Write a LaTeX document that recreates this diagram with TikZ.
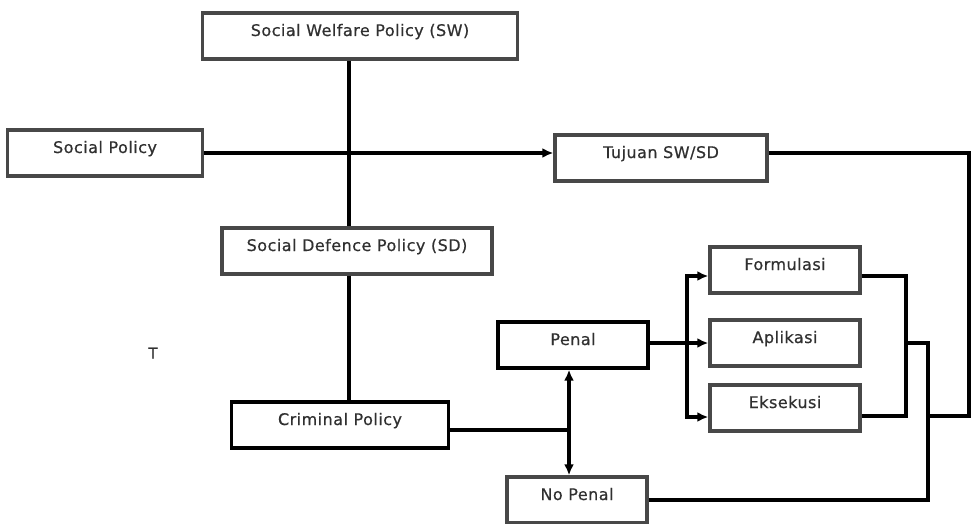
\documentclass[tikz,border=0pt]{standalone}
\usepackage{fontspec}
\setmainfont{DejaVu Sans}[LetterSpace=3,FakeBold=0.6]
\usetikzlibrary{arrows.meta}
\definecolor{boxgray}{HTML}{484848}
\definecolor{txtgray}{HTML}{303030}

\begin{document}
\begin{tikzpicture}[x=1pt,y=-1pt,
line width=3.4pt,
>={Latex[length=11pt,width=10pt]},
policy/.style={draw=boxgray, line width=3.4pt, inner xsep=0pt, inner ysep=0pt,
  text height=23pt, text depth=23pt, text=txtgray, font=\fontsize{16}{18}\selectfont},
dark/.style={policy, draw=black}]
\useasboundingbox (0,0) rectangle (974,524);

% boxes
\node[policy, minimum width=315pt] (sw)  at (360,36)  {Social Welfare Policy (SW)};
\node[policy, minimum width=195pt] (soc) at (105,153) {Social Policy};
\node[policy, minimum width=212pt] (tuj) at (661,158) {Tujuan SW/SD};
\node[policy, minimum width=270pt] (sd)  at (357,251) {Social Defence Policy (SD)};
\node[policy, minimum width=150pt] (form) at (785,270) {Formulasi};
\node[policy, minimum width=150pt] (apl)  at (785,343) {Aplikasi};
\node[policy, minimum width=150pt] (eks)  at (785,408) {Eksekusi};
\node[dark,   minimum width=150pt] (penal) at (573,345) {Penal};
\node[dark,   minimum width=217pt] (crim)  at (340,425) {Criminal Policy};
\node[policy, minimum width=140pt] (nopen) at (577,500) {No Penal};
\node[text=txtgray, font=\fontsize{15}{17}\selectfont] (t) at (153,353) {T};

% helper points
\coordinate (spine) at (349,0);
\coordinate (fork)  at (687,343);
\coordinate (pj)    at (569,430);
\coordinate (inner) at (906,0);
\coordinate (mid)   at (928,0);
\coordinate (outer) at (969,0);

% connectors
\draw (sw.south -| spine) -- (sd.north -| spine);
\draw (sd.south -| spine) -- (crim.north -| spine);
\draw[->] (soc.east) -- (tuj.west |- soc.east);
\draw (tuj.east |- soc.east) -| ([yshift=-8pt]eks.east -| outer) -- ([yshift=-8pt]eks.east -| mid);
\draw[->] (penal.east |- fork) -- (apl.west |- fork);
\draw[->] (fork) |- ([yshift=-6pt]form.west);
\draw[->] (fork) |- ([yshift=-9pt]eks.west);
\draw ([yshift=-6pt]form.east) -| ([yshift=-8pt]eks.east -| inner) -- ([yshift=-8pt]eks.east);
\draw ([yshift=-5pt]crim.east) -- (pj);
\draw[<->] (penal.south -| pj) -- (nopen.north -| pj);
\draw (nopen.east) -| (mid |- apl.east) -- (inner |- apl.east);
\end{tikzpicture}
\end{document}
